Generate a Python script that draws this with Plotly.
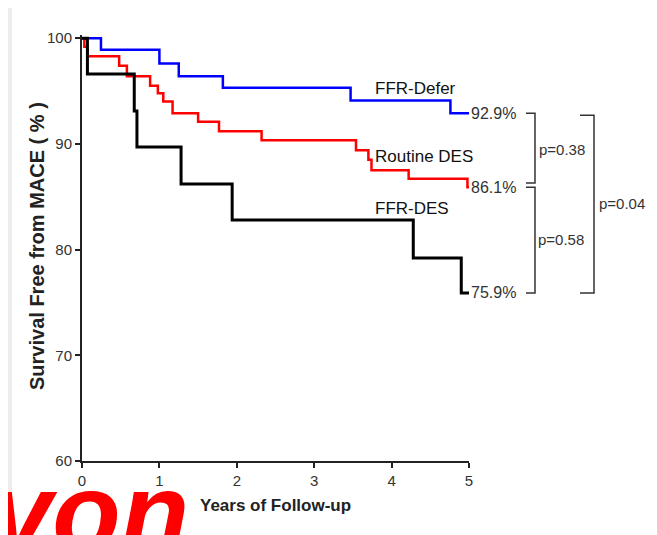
import plotly.graph_objects as go

# ---- data ----
defer_t = [0, 0.245, 1.0, 1.25, 1.82, 3.47, 4.76, 5.0]
defer_s = [100, 98.9, 97.6, 96.4, 95.3, 94.1, 92.9, 92.9]

routine_t = [0, 0.03, 0.07, 0.48, 0.58, 0.88, 0.98, 1.05, 1.17, 1.50, 1.77,
             2.32, 3.54, 3.70, 3.74, 4.22, 4.98, 5.0]
routine_s = [100, 99.2, 98.3, 97.4, 96.4, 95.5, 94.8, 94.0, 92.9, 92.1, 91.2,
             90.35, 89.4, 88.5, 87.5, 86.7, 85.9, 85.9]

des_t = [0, 0.07, 0.675, 0.71, 1.28, 1.94, 4.28, 4.90, 5.0]
des_s = [100, 96.6, 93.1, 89.7, 86.2, 82.8, 79.2, 75.9, 75.9]

group_names = ["FFR-Defer", "Routine DES", "FFR-DES"]
group_colors = ["#0000ff", "#ff0000", "#000000"]
end_labels = ["92.9%", "86.1%", "75.9%"]
end_values = [92.9, 86.1, 75.9]
p_labels = ["p=0.38", "p=0.58", "p=0.04"]

x_ticks = [0, 1, 2, 3, 4, 5]
y_ticks = [60, 70, 80, 90, 100]

# ---- layout geometry ----
# the page places the figure 8px from the top-left corner, so all page
# positions are shifted by OFF
OFF = 8
W, H = 657, 535
L_pg, R_pg, T_pg, B_pg = 82, 469, 35, 461   # plot area edges on the page
L, T = L_pg - OFF, T_pg - OFF
R = W - (R_pg - OFF)
B = H - (B_pg - OFF)
PW, PH = W - L - R, H - T - B


def px(xp):
    return (xp - OFF - L) / PW


def py(yp):
    return (H - B - (yp - OFF)) / PH


NARROW = "Liberation Sans Narrow, Arial Narrow, Liberation Sans, Arial, sans-serif"
BOLD = "Liberation Sans, Arial, sans-serif"

fig = go.Figure()
series = [(defer_t, defer_s), (routine_t, routine_s), (des_t, des_s)]
widths = [2.5, 2.5, 3]
for (t, s), name, col, w in zip(series, group_names, group_colors, widths):
    fig.add_trace(go.Scatter(x=t, y=s, mode="lines", name=name,
                             line=dict(color=col, width=w, shape="hv"),
                             showlegend=False, hoverinfo="skip"))

annotations = []
# group labels
label_pos = [(3.755, 95.2), (3.765, 88.85), (3.765, 83.9)]
for name, (lx, ly) in zip(group_names, label_pos):
    annotations.append(dict(x=lx, y=ly, xref="x", yref="y", text=name,
                            showarrow=False, xanchor="left", yanchor="middle",
                            font=dict(family=NARROW, size=17, color="#111")))
# end-value labels
for lab, s in zip(end_labels, [defer_s[-1], routine_s[-1], des_s[-1]]):
    annotations.append(dict(x=5.0, y=s, xref="x", yref="y", text=lab,
                            showarrow=False, xanchor="left", yanchor="middle",
                            font=dict(family=NARROW, size=16, color="#333")))

# brackets
shapes = []
lc = dict(color="#333", width=1.5)
g = 0.2
brackets = [
    (px(526), px(535), end_values[0], end_values[1] + g),
    (px(526), px(535), end_values[1] - g, end_values[2]),
    (px(580), px(594), end_values[0] - g, end_values[2]),
]
for x0, x1, ytop, ybot in brackets:
    shapes.append(dict(type="path", xref="paper", yref="y",
                       path=f"M {x0},{ytop} L {x1},{ytop} L {x1},{ybot} L {x0},{ybot}",
                       line=lc))
p_pos = [(px(537), (end_values[0] + end_values[1]) / 2),
         (px(536), (end_values[1] + end_values[2]) / 2),
         (px(597), (end_values[0] + end_values[2]) / 2)]
for lab, (lx, ly) in zip(p_labels, p_pos):
    annotations.append(dict(x=lx, y=ly, xref="paper", yref="y", text=lab,
                            showarrow=False, xanchor="left", yanchor="middle",
                            font=dict(family=NARROW, size=15, color="#333")))

# axis titles
annotations.append(dict(x=px(37), y=py(246), xref="paper", yref="paper",
                        text="<b>Survival Free from MACE ( % )</b>", textangle=-90,
                        showarrow=False, xanchor="center", yanchor="middle",
                        font=dict(family=BOLD, size=20, color="#222")))
annotations.append(dict(x=px(275), y=py(505), xref="paper", yref="paper",
                        text="<b>Years of Follow-up</b>",
                        showarrow=False, xanchor="center", yanchor="middle",
                        font=dict(family=BOLD, size=17, color="#222")))

# watermark fragment at bottom-left
annotations.append(dict(x=px(-12), y=py(448), xref="paper", yref="paper",
                        text="<b><i>von</i></b>", showarrow=False,
                        xanchor="left", yanchor="top",
                        font=dict(family=BOLD, size=112, color="#ff0000")))

# light grey frame strip
shapes.append(dict(type="rect", xref="paper", yref="paper", layer="below",
                   x0=px(OFF), x1=px(12), y0=py(535), y1=py(OFF),
                   fillcolor="#ececec", line=dict(width=0)))

axis_common = dict(showgrid=False, zeroline=False, showline=True,
                   linecolor="#222", linewidth=2, ticks="outside",
                   ticklen=5, tickwidth=1.5, tickcolor="#222",
                   tickfont=dict(family=NARROW, size=15, color="#333"))

fig.update_layout(
    width=W, height=H,
    margin=dict(l=L, r=R, t=T, b=B),
    paper_bgcolor="white", plot_bgcolor="white",
    xaxis=dict(range=[0, 5], tickvals=x_ticks, **axis_common),
    yaxis=dict(range=[60, 100.3], tickvals=y_ticks, **axis_common),
    annotations=annotations, shapes=shapes,
)

fig.write_html("out.html")
